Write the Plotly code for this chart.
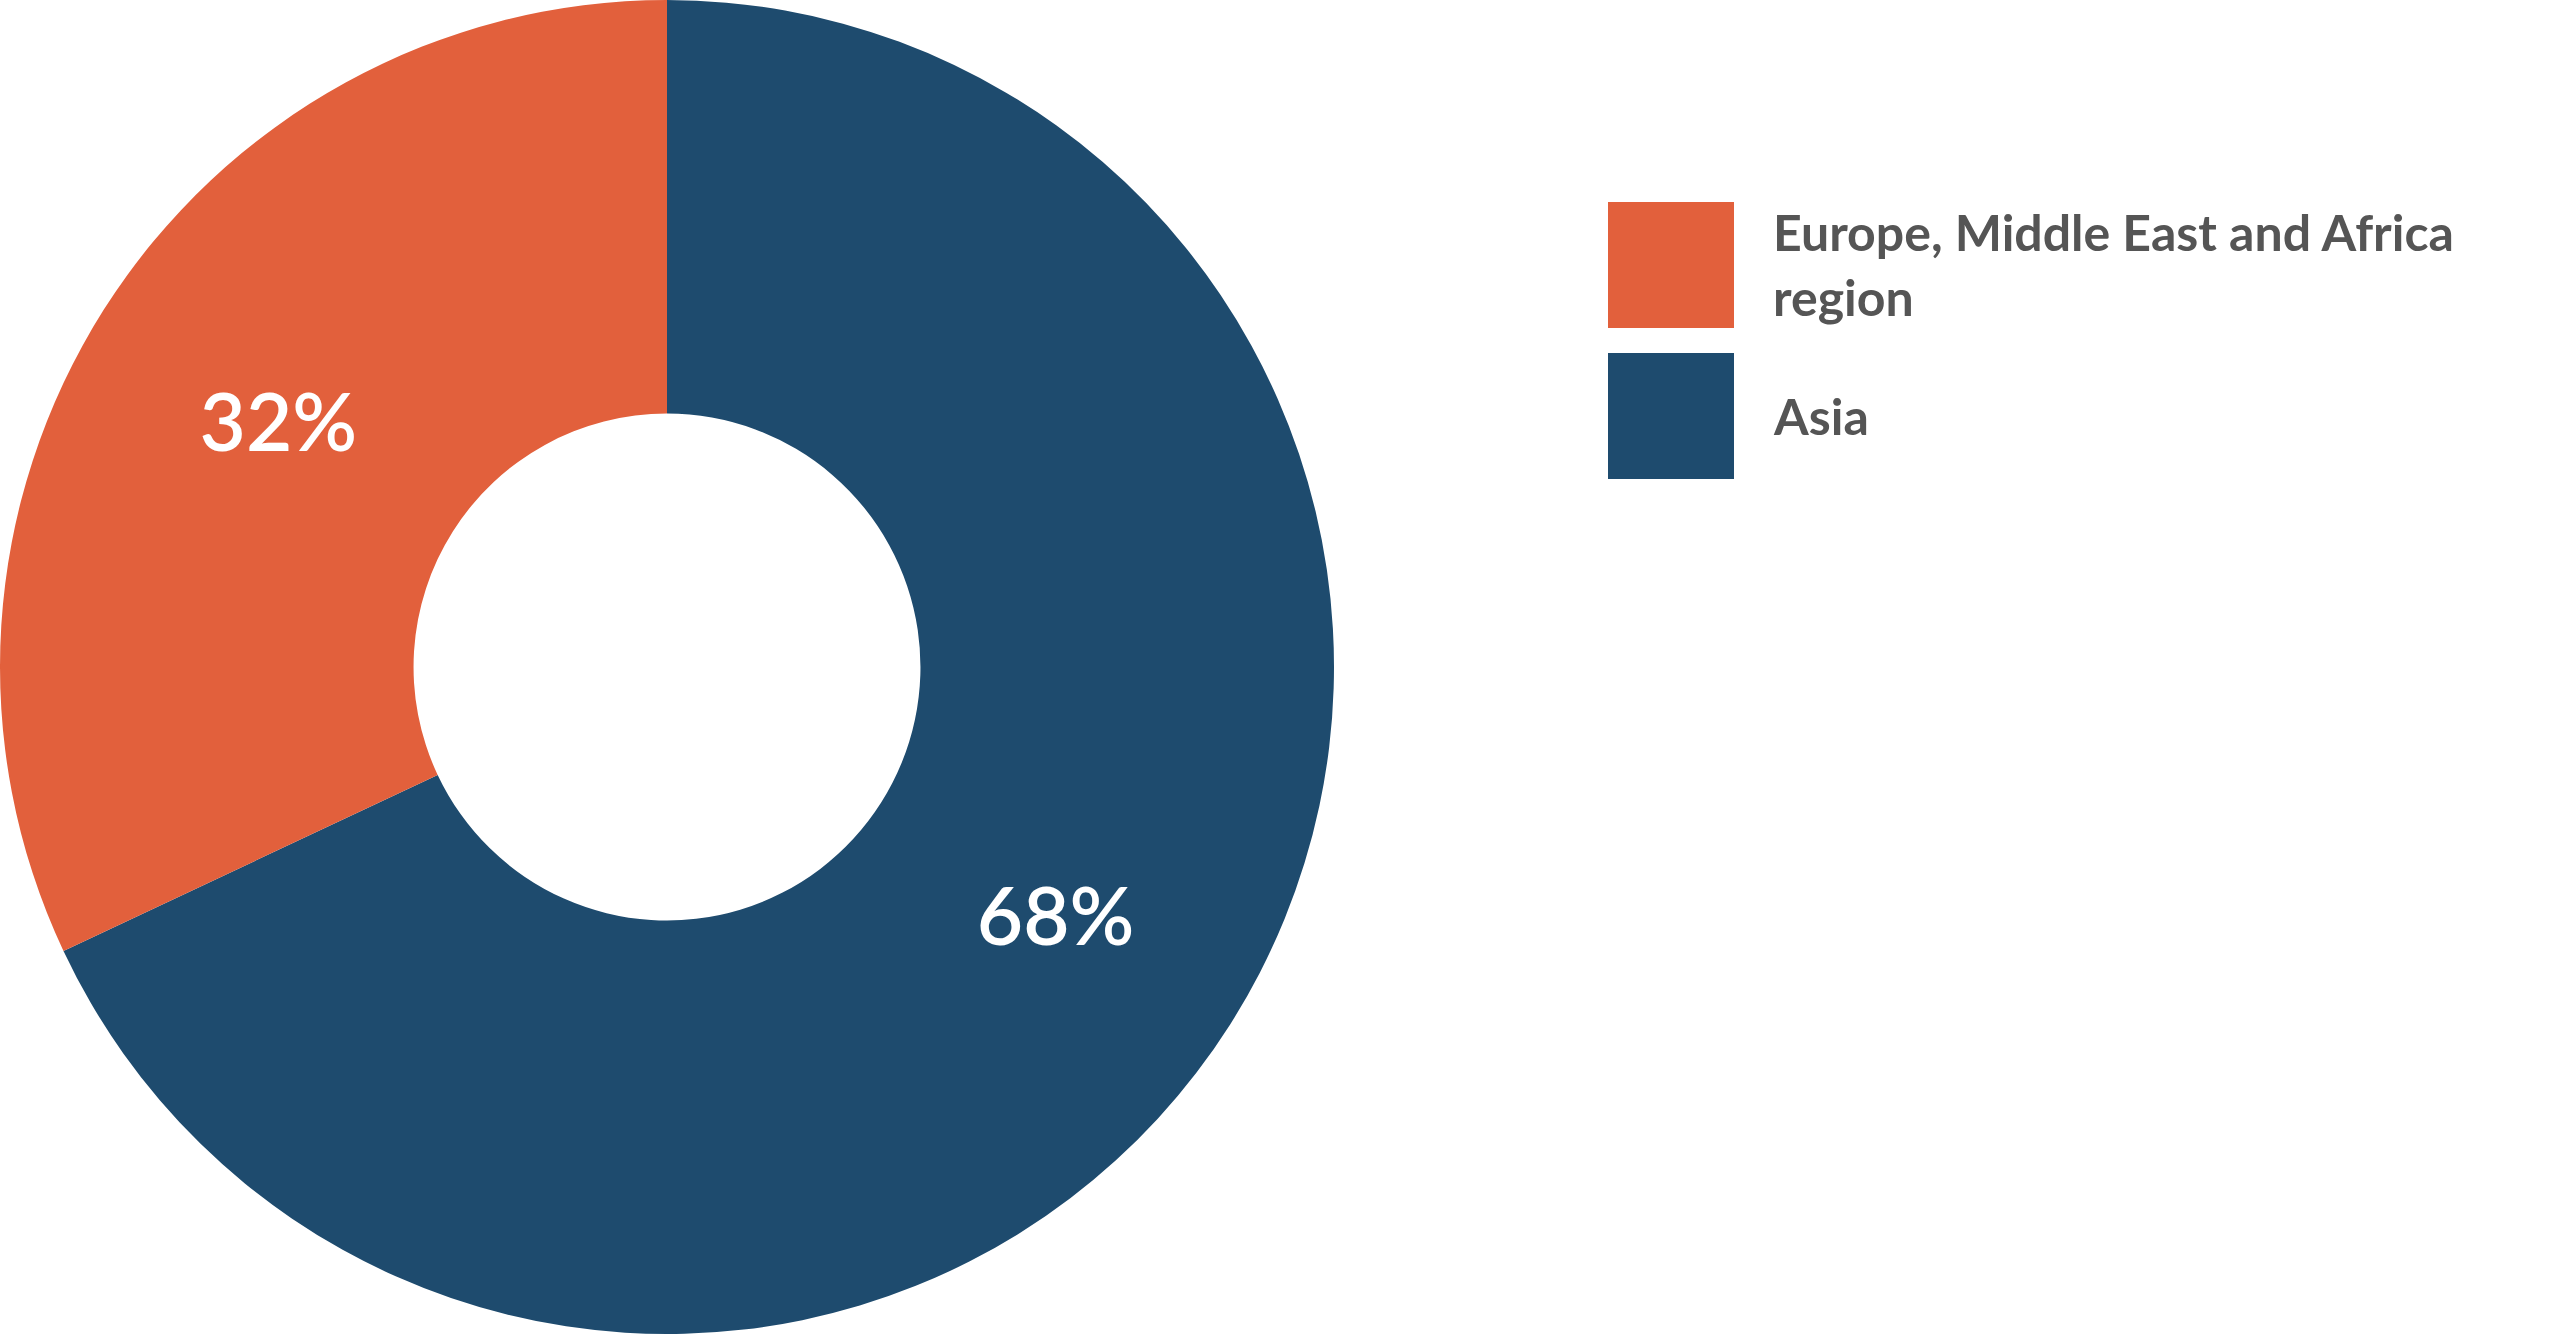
import plotly.graph_objects as go

# legend order (as shown in reference)
labels = ["Europe, Middle East and Africa region", "Asia"]
legend_text = ["Europe, Middle East and Africa<br>region", "Asia"]
values = [32, 68]
colors = ["#E2603C", "#1E4B6E"]

# pie drawing order: Asia starts at 12 o'clock going clockwise
pie_order = [1, 0]

W, H = 2560, 1334

fig = go.Figure()
fig.add_trace(go.Pie(
    labels=[labels[i] for i in pie_order],
    values=[values[i] for i in pie_order],
    sort=False,
    direction="clockwise",
    rotation=0,
    hole=0.38,
    marker=dict(colors=[colors[i] for i in pie_order], line=dict(width=0)),
    textinfo="percent",
    texttemplate="%{percent:.0%}",
    textposition="inside",
    insidetextorientation="horizontal",
    textfont=dict(family="Lato", size=80, color="white", weight=600),
    domain=dict(x=[0, H / W], y=[0, 1]),
    showlegend=False,
    hoverinfo="label+percent",
))

# custom legend (large swatches) built from the data arrays
sw_x0, sw_x1 = 1608, 1734
sw_top = [202, 353]
sw_size = 126
for i, (txt, col) in enumerate(zip(legend_text, colors)):
    y0 = sw_top[i]
    y1 = y0 + sw_size
    fig.add_shape(type="rect", xref="paper", yref="paper",
                  x0=sw_x0 / W, x1=sw_x1 / W,
                  y0=1 - y1 / H, y1=1 - y0 / H,
                  fillcolor=col, line=dict(width=0), layer="above")
    fig.add_annotation(xref="paper", yref="paper",
                       x=1771 / W, y=1 - (y0 + sw_size / 2) / H,
                       xanchor="left", yanchor="middle", align="left",
                       text=txt, showarrow=False,
                       font=dict(family="Lato", size=50, color="#555555", weight="bold"))

fig.update_layout(
    width=W, height=H,
    margin=dict(l=0, r=0, t=0, b=0),
    paper_bgcolor="white",
    plot_bgcolor="white",
)

fig.write_html("out.html", config={"displayModeBar": False},
               post_script="document.body.style.margin='0';")
